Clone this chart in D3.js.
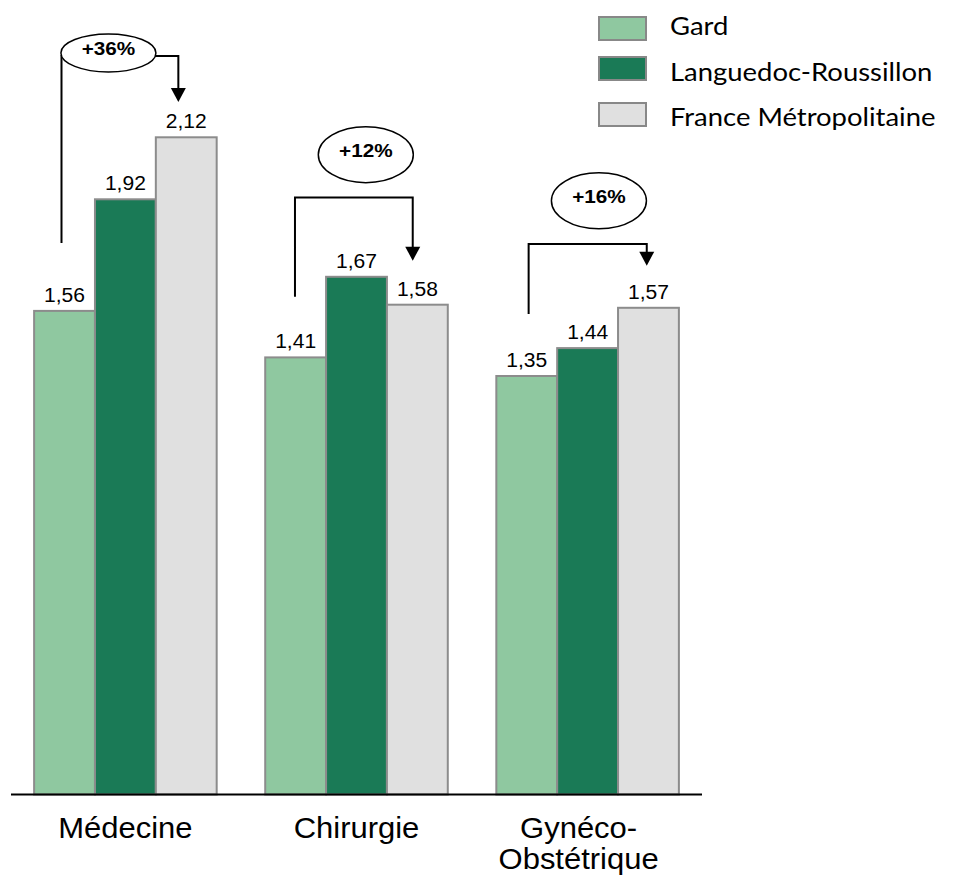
<!DOCTYPE html>
<html>
<head>
<meta charset="utf-8">
<script src="https://cdn.jsdelivr.net/npm/d3@7"></script>
<style>
  html, body { margin: 0; padding: 0; background: #ffffff; }
  svg { display: block; }
</style>
</head>
<body>
<div id="chart"></div>
<script>
// Categories and series
const categories = ["Médecine", "Chirurgie", "Gynéco-Obstétrique"];
const categoryLines = [["Médecine"], ["Chirurgie"], ["Gynéco-", "Obstétrique"]];
const seriesNames = ["Gard", "Languedoc-Roussillon", "France Métropolitaine"];
const gard = [1.56, 1.41, 1.35];
const languedoc = [1.92, 1.67, 1.44];
const france = [2.12, 1.58, 1.57];
const gapLabels = ["+36%", "+12%", "+16%"];

// Styling
const seriesColors = ["#8fc8a0", "#1a7a56", "#e0e0e0"];
const barStroke = "#8c8c8c";
const sansFont = "'Liberation Sans', Arial, sans-serif";
const legendFont = "Lato, 'Open Sans', sans-serif";
const textStretch = 1.08;

// Bracket annotations per category: x as a fraction of the group band,
// y in value units (foot of left leg, horizontal level, arrow tip, bubble centre)
const bracketLayout = [
  { left: 0.150, arrow: 0.790, foot: 1.779, level: 2.382, tip: 2.234, bubbleX: 0.407, bubbleY: 2.392, ry: 19 },
  { left: 0.163, arrow: 0.808, foot: 1.606, level: 1.926, tip: 1.722, bubbleX: 0.551, bubbleY: 2.064, ry: 28 },
  { left: 0.177, arrow: 0.824, foot: 1.550, level: 1.776, tip: 1.706, bubbleX: 0.562, bubbleY: 1.915, ry: 28 }
];

const width = 955, height = 879;
const seriesValues = [gard, languedoc, france];
const rows = categories.map((c, i) => ({
  category: c,
  values: seriesNames.map((s, j) => ({ series: s, value: seriesValues[j][i], idx: j }))
}));

const frLocale = d3.formatLocale({ decimal: ",", thousands: "\u00a0", grouping: [3], currency: ["", " €"] });
const fmt = frLocale.format(".2f");

const svg = d3.select("#chart").append("svg")
  .attr("width", width).attr("height", height);

const y = d3.scaleLinear().domain([0, 2.5]).range([794.5, 19.5]);
const x0 = d3.scaleBand().domain(categories).range([11, 702]).paddingInner(0.21).paddingOuter(0.1);
const x1 = d3.scaleBand().domain(seriesNames).range([0, x0.bandwidth()]).padding(0);

// Places a text at (x, y) with a slight horizontal stretch
function placeText(sel, x, yPos, sx) {
  return sel.attr("x", 0).attr("y", 0)
    .attr("transform", `translate(${x},${yPos}) scale(${sx},1)`);
}

// Bars
const groups = svg.append("g").selectAll("g").data(rows).join("g")
  .attr("transform", d => `translate(${x0(d.category)},0)`);

groups.selectAll("rect").data(d => d.values).join("rect")
  .attr("x", d => x1(d.series))
  .attr("y", d => y(d.value))
  .attr("width", x1.bandwidth())
  .attr("height", d => y(0) - y(d.value))
  .attr("fill", d => seriesColors[d.idx])
  .attr("stroke", barStroke)
  .attr("stroke-width", 2);

// Value labels
groups.selectAll("text.val").data(d => d.values).join("text")
  .attr("class", "val")
  .attr("transform", d => `translate(${x1(d.series) + x1.bandwidth() / 2},${y(d.value) - 9}) scale(${textStretch},1)`)
  .attr("text-anchor", "middle")
  .attr("font-family", sansFont)
  .attr("font-size", 19.5)
  .attr("fill", "#000")
  .text(d => fmt(d.value));

// Baseline axis
const xAxis = d3.axisBottom(x0).tickSize(0).tickFormat("");
const axisG = svg.append("g").attr("transform", `translate(0,${y(0)})`).call(xAxis);
axisG.select(".domain").attr("stroke", "#000").attr("stroke-width", 2)
  .attr("d", `M${x0.range()[0]},0H${x0.range()[1]}`);

// Category labels
const catG = svg.append("g");
categories.forEach((c, i) => {
  const cx = x0(c) + x0.bandwidth() / 2 - (i === 2 ? 9 : 0);
  categoryLines[i].forEach((line, k) => {
    placeText(catG.append("text"), cx, 838 + k * 31, 1.05)
      .attr("text-anchor", "middle")
      .attr("font-family", sansFont)
      .attr("font-size", 29.5)
      .attr("fill", "#000")
      .text(line);
  });
});

// Brackets with arrows and percentage bubbles
const ann = svg.append("g");
categories.forEach((c, i) => {
  const L = bracketLayout[i];
  const bx = x0(c), bw = x0.bandwidth();
  const lx = bx + L.left * bw;
  const ax = bx + L.arrow * bw;
  const headH = 14, headW = 15;
  ann.append("path")
    .attr("d", `M${lx},${y(L.foot)}V${y(L.level)}H${ax}V${y(L.tip) - headH + 1}`)
    .attr("fill", "none").attr("stroke", "#000").attr("stroke-width", 2);
  ann.append("path")
    .attr("d", `M${ax - headW / 2},${y(L.tip) - headH}L${ax + headW / 2},${y(L.tip) - headH}L${ax},${y(L.tip)}Z`)
    .attr("fill", "#000");
  const ex = bx + L.bubbleX * bw, ey = y(L.bubbleY);
  ann.append("ellipse")
    .attr("cx", ex).attr("cy", ey).attr("rx", 47.5).attr("ry", L.ry)
    .attr("fill", "#fff").attr("stroke", "#000").attr("stroke-width", 1.5);
  placeText(ann.append("text"), ex, ey + 2, 1.12)
    .attr("text-anchor", "middle")
    .attr("font-family", sansFont)
    .attr("font-weight", "bold")
    .attr("font-size", 18.5)
    .attr("fill", "#000")
    .text(gapLabels[i]);
});

// Legend
const legendTops = [17, 57, 103];
const legendBaselines = [35, 81, 126];
const legend = svg.append("g");
seriesNames.forEach((s, i) => {
  legend.append("rect")
    .attr("x", 599).attr("y", legendTops[i])
    .attr("width", 47).attr("height", 23)
    .attr("fill", seriesColors[i]).attr("stroke", "#888").attr("stroke-width", 2);
  placeText(legend.append("text"), 670, legendBaselines[i], 1.12)
    .attr("font-family", legendFont)
    .attr("font-size", 24.5)
    .attr("fill", "#000")
    .text(s);
});
</script>
</body>
</html>
